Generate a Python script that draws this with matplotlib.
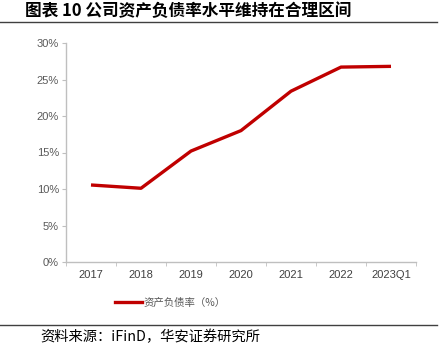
import matplotlib
matplotlib.use("Agg")
import matplotlib.pyplot as plt
from matplotlib.lines import Line2D

plt.rcParams['font.family'] = ['Noto Sans CJK SC', 'DejaVu Sans']

categories = ["2017", "2018", "2019", "2020", "2021", "2022", "2023Q1"]
ratio = [10.55, 10.1, 15.2, 18.0, 23.4, 26.7, 26.8]
yticks = [0, 5, 10, 15, 20, 25, 30]
ytick_labels = ["0%", "5%", "10%", "15%", "20%", "25%", "30%"]
title = "图表 10 公司资产负债率水平维持在合理区间"
legend_label = "资产负债率（%）"
source = "资料来源：iFinD，华安证券研究所"

fig = plt.figure(figsize=(4.45, 3.51), dpi=100)
ax = fig.add_axes([66/445, 1-262/351, 350/445, 219/351])

x = list(range(len(categories)))
ax.plot(x, ratio, color="#C00000", lw=2.4, solid_capstyle="butt", solid_joinstyle="round")
ax.set_xlim(-0.5, len(categories) - 0.5)
ax.set_ylim(0, 30)
ax.set_yticks(yticks)
ax.set_yticklabels(ytick_labels)
ax.set_xticks(x)
ax.set_xticklabels(categories)
ax.set_xticks([i - 0.5 for i in range(len(categories) + 1)], minor=True)
ax.tick_params(axis="x", which="major", length=0, pad=6, labelsize=8, labelcolor="#404040")
ax.tick_params(axis="x", which="minor", length=3, color="#BFBFBF", direction="out")
ax.tick_params(axis="y", length=3, color="#BFBFBF", labelsize=8, labelcolor="#595959", pad=2)
for lab in ax.get_xticklabels() + ax.get_yticklabels():
    lab.set_family("Liberation Sans")
for s in ["top", "right"]:
    ax.spines[s].set_visible(False)
for s in ["left", "bottom"]:
    ax.spines[s].set_color("#BFBFBF")
    ax.spines[s].set_linewidth(1.0)

handle = Line2D([0], [0], color="#C00000", lw=2.4)
fig.legend([handle], [legend_label], loc="center", bbox_to_anchor=(170/445, 1-303/351),
           frameon=False, fontsize=7.5, handlelength=2.6, handletextpad=0.15,
           labelcolor="#595959")

fig.text(25/445, 1-11/351, title, fontsize=12, fontweight="bold", va="center", ha="left",
         color="#000000")
fig.add_artist(Line2D([0, 437/445], [1-22/351, 1-22/351], color="#404040", lw=1.0))
fig.add_artist(Line2D([0, 437/445], [1-325/351, 1-325/351], color="#404040", lw=1.0))
fig.text(40/445, 1-337/351, source, fontsize=10.3, va="center", ha="left", color="#000000")

fig.savefig("out.png", dpi=100)
